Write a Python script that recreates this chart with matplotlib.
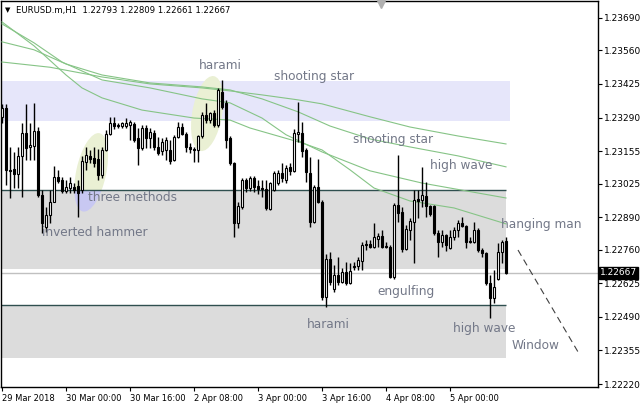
import matplotlib
matplotlib.use('Agg')
import matplotlib.pyplot as plt
from matplotlib.patches import Ellipse, Rectangle
from matplotlib.transforms import ScaledTranslation
import numpy as np

# EURUSD.m H1, бары с 29 Mar 2018 08:00 (индекс 0) до 5 Apr 14:00
opens = [1.23292, 1.23329, 1.23080, 1.23084, 1.23064, 1.23136, 1.23228, 1.23172, 1.23176, 1.23236,
         1.22980, 1.22851, 1.22899, 1.22951, 1.23052, 1.23040, 1.22996, 1.23008, 1.23012, 1.23016,
         1.23000, 1.23112, 1.23136, 1.23128, 1.23124, 1.23060, 1.23160, 1.23224, 1.23268, 1.23260,
         1.23256, 1.23256, 1.23260, 1.23264, 1.23208, 1.23168, 1.23248, 1.23208, 1.23228, 1.23172,
         1.23156, 1.23160, 1.23160, 1.23120, 1.23212, 1.23252, 1.23224, 1.23172, 1.23164, 1.23160,
         1.23216, 1.23300, 1.23280, 1.23308, 1.23260, 1.23393, 1.23349, 1.23208, 1.23108, 1.22867,
         1.22931, 1.23040, 1.23008, 1.23048, 1.23016, 1.23008, 1.23004, 1.22923, 1.23000, 1.23028,
         1.23068, 1.23040, 1.23092, 1.23076, 1.23224, 1.23228, 1.23160, 1.23068, 1.22871, 1.23012,
         1.22951, 1.22570, 1.22723, 1.22602, 1.22659, 1.22630, 1.22671, 1.22626, 1.22695, 1.22695,
         1.22715, 1.22783, 1.22783, 1.22771, 1.22803, 1.22815, 1.22775, 1.22771, 1.22650, 1.22939,
         1.22911, 1.22763, 1.22839, 1.22871, 1.22963, 1.22959, 1.22975, 1.22935, 1.22935, 1.22827,
         1.22791, 1.22819, 1.22767, 1.22811, 1.22839, 1.22867, 1.22855, 1.22795, 1.22791, 1.22839,
         1.22759, 1.22747, 1.22626, 1.22566, 1.22642, 1.22751, 1.22793]
highs = [1.23345, 1.23345, 1.23172, 1.23152, 1.23172, 1.23268, 1.23345, 1.23268, 1.23349, 1.23252,
         1.23000, 1.22931, 1.23000, 1.23096, 1.23080, 1.23052, 1.23040, 1.23052, 1.23028, 1.23040,
         1.23136, 1.23172, 1.23160, 1.23172, 1.23164, 1.23172, 1.23240, 1.23292, 1.23292, 1.23268,
         1.23272, 1.23288, 1.23280, 1.23272, 1.23248, 1.23260, 1.23260, 1.23248, 1.23240, 1.23212,
         1.23208, 1.23212, 1.23200, 1.23220, 1.23272, 1.23268, 1.23232, 1.23188, 1.23172, 1.23220,
         1.23312, 1.23349, 1.23312, 1.23320, 1.23409, 1.23441, 1.23361, 1.23216, 1.23112, 1.22951,
         1.23048, 1.23048, 1.23056, 1.23056, 1.23040, 1.23040, 1.23040, 1.23032, 1.23076, 1.23080,
         1.23108, 1.23100, 1.23108, 1.23244, 1.23353, 1.23272, 1.23168, 1.23132, 1.23020, 1.23124,
         1.22959, 1.22743, 1.22751, 1.22699, 1.22731, 1.22687, 1.22711, 1.22707, 1.22711, 1.22731,
         1.22791, 1.22799, 1.22799, 1.22867, 1.22827, 1.22839, 1.22791, 1.22779, 1.22947, 1.23140,
         1.22931, 1.22859, 1.22887, 1.23000, 1.23000, 1.23092, 1.23032, 1.22939, 1.22939, 1.22839,
         1.22839, 1.22823, 1.22839, 1.22851, 1.22879, 1.22891, 1.22859, 1.22811, 1.22871, 1.22847,
         1.22767, 1.22751, 1.22658, 1.22679, 1.22787, 1.22799, 1.22809]
lows = [1.23268, 1.23020, 1.22968, 1.23008, 1.23008, 1.22972, 1.23120, 1.23120, 1.23120, 1.22972,
        1.22827, 1.22831, 1.22867, 1.22951, 1.23028, 1.22988, 1.22988, 1.22988, 1.22988, 1.22891,
        1.22988, 1.23080, 1.23108, 1.23092, 1.23040, 1.23048, 1.23156, 1.23220, 1.23244, 1.23248,
        1.23248, 1.23248, 1.23200, 1.23192, 1.23100, 1.23160, 1.23168, 1.23168, 1.23160, 1.23140,
        1.23140, 1.23120, 1.23104, 1.23116, 1.23208, 1.23220, 1.23152, 1.23148, 1.23112, 1.23112,
        1.23208, 1.23268, 1.23268, 1.23252, 1.23252, 1.23325, 1.23168, 1.23100, 1.22811, 1.22847,
        1.22923, 1.22992, 1.22996, 1.22992, 1.22984, 1.22972, 1.22919, 1.22919, 1.22996, 1.23020,
        1.23032, 1.23028, 1.23060, 1.23072, 1.23192, 1.23132, 1.23032, 1.22851, 1.22867, 1.22947,
        1.22558, 1.22530, 1.22618, 1.22590, 1.22618, 1.22626, 1.22618, 1.22622, 1.22679, 1.22679,
        1.22679, 1.22759, 1.22767, 1.22767, 1.22771, 1.22767, 1.22767, 1.22646, 1.22642, 1.22871,
        1.22751, 1.22759, 1.22799, 1.22707, 1.22887, 1.22931, 1.22891, 1.22895, 1.22819, 1.22731,
        1.22771, 1.22755, 1.22763, 1.22799, 1.22811, 1.22851, 1.22767, 1.22787, 1.22787, 1.22751,
        1.22731, 1.22618, 1.22486, 1.22546, 1.22638, 1.22707, 1.22661]
closes = [1.23329, 1.23080, 1.23076, 1.23064, 1.23136, 1.23228, 1.23168, 1.23180, 1.23236, 1.22980,
          1.22867, 1.22899, 1.22951, 1.23052, 1.23036, 1.22996, 1.23012, 1.23028, 1.23000, 1.22988,
          1.23116, 1.23140, 1.23124, 1.23108, 1.23060, 1.23160, 1.23224, 1.23268, 1.23256, 1.23256,
          1.23268, 1.23268, 1.23272, 1.23200, 1.23168, 1.23248, 1.23208, 1.23232, 1.23172, 1.23148,
          1.23192, 1.23200, 1.23116, 1.23212, 1.23252, 1.23224, 1.23172, 1.23164, 1.23160, 1.23216,
          1.23300, 1.23280, 1.23308, 1.23260, 1.23401, 1.23333, 1.23200, 1.23108, 1.22867, 1.22935,
          1.23040, 1.23008, 1.23048, 1.23012, 1.23004, 1.23004, 1.22927, 1.23028, 1.23068, 1.23068,
          1.23048, 1.23088, 1.23076, 1.23228, 1.23232, 1.23156, 1.23072, 1.22871, 1.23012, 1.22951,
          1.22570, 1.22723, 1.22630, 1.22659, 1.22630, 1.22671, 1.22626, 1.22675, 1.22691, 1.22719,
          1.22779, 1.22779, 1.22771, 1.22811, 1.22815, 1.22771, 1.22771, 1.22650, 1.22939, 1.22907,
          1.22763, 1.22843, 1.22875, 1.22959, 1.22955, 1.22979, 1.22935, 1.22903, 1.22827, 1.22791,
          1.22819, 1.22779, 1.22811, 1.22839, 1.22867, 1.22855, 1.22791, 1.22791, 1.22839, 1.22759,
          1.22747, 1.22626, 1.22566, 1.22610, 1.22751, 1.22791, 1.22667]

# скользящие средние (бар, цена)
ma_fast_x = [0, 8, 16, 20, 25, 35, 48, 57, 62, 75, 80, 87, 93, 102, 113, 126]
ma_fast_y = [1.23674, 1.23578, 1.23461, 1.23409, 1.23369, 1.23320, 1.23288, 1.23280, 1.23248,
             1.23188, 1.23160, 1.23080, 1.23007, 1.22955, 1.22927, 1.22863]
ma_mid1_x = [0, 8, 15, 25, 37, 50, 57, 65, 71, 80, 92, 105, 126]
ma_mid1_y = [1.23666, 1.23590, 1.23513, 1.23441, 1.23409, 1.23365, 1.23349, 1.23288, 1.23221,
             1.23152, 1.23076, 1.23027, 1.22967]
ma_mid2_x = [0, 8, 16, 25, 37, 50, 57, 65, 74, 82, 92, 102, 114, 126]
ma_mid2_y = [1.23594, 1.23562, 1.23505, 1.23461, 1.23429, 1.23413, 1.23401, 1.23365, 1.23313,
             1.23256, 1.23204, 1.23172, 1.23136, 1.23092]
ma_slow_x = [0, 12, 25, 37, 50, 57, 65, 74, 80, 92, 102, 114, 126]
ma_slow_y = [1.23513, 1.23492, 1.23453, 1.23425, 1.23409, 1.23397, 1.23381, 1.23361, 1.23345,
             1.23293, 1.23252, 1.23216, 1.23184]

# зоны
blue_zone = (1.23277, 1.23437)
grey_zone1 = (1.22680, 1.23000)
grey_zone2 = (1.22325, 1.22537)
last_price = 1.22667

# подписи паттернов (бар, цена)
pattern_names = ['harami', 'shooting star', 'shooting star', 'high wave', 'three methods',
                 'inverted hammer', 'hanging man', 'engulfing', 'harami', 'high wave', 'Window']
pattern_x = [49.3, 68, 87.8, 107, 21.5, 10, 124.8, 93.8, 76.3, 112.8, 127.3]
pattern_y = [1.23497, 1.23453, 1.23200, 1.23096, 1.22967, 1.22827, 1.22859, 1.22590, 1.22457,
             1.22441, 1.22373]

x_ticks = [0, 16, 32, 48, 64, 80, 96, 112]
x_labels = ['29 Mar 2018', '30 Mar 00:00', '30 Mar 16:00', '2 Apr 08:00', '3 Apr 00:00',
            '3 Apr 16:00', '4 Apr 08:00', '5 Apr 00:00']
y_ticks = [1.23690, 1.23560, 1.23425, 1.23290, 1.23155, 1.23025, 1.22890, 1.22760, 1.22625,
           1.22490, 1.22355, 1.22220]

W, H = 644, 407
fig = plt.figure(figsize=(W / 100, H / 100), dpi=100)
ax = fig.add_axes([1 / W, 20 / H, 597 / W, 386 / H])
ax.set_xlim(-0.25, 149)
ax.set_ylim(1.22208, 1.23758)

n = len(opens)
idx = np.arange(n)
o = np.array(opens); c = np.array(closes); hi = np.array(highs); lo = np.array(lows)

# прямоугольники
ax.add_patch(Rectangle((-1, blue_zone[0]), 128.1, blue_zone[1] - blue_zone[0],
                       facecolor='#e6e6fa', edgecolor='none', zorder=1))
g1 = Rectangle((-1, grey_zone1[0]), 127.1, grey_zone1[1] - grey_zone1[0],
               facecolor='#dcdcdc', edgecolor='none', zorder=1.5)
ax.add_patch(g1)
ax.add_patch(Rectangle((-1, grey_zone2[0]), 127.1, grey_zone2[1] - grey_zone2[0],
                       facecolor='#dcdcdc', edgecolor='none', zorder=1.5))
ax.hlines([grey_zone1[1], grey_zone2[1]], -1, 126.1, color='#2f4f4f', lw=1, zorder=2)
ax.axhline(last_price, color='#c0c0c0', lw=1, zorder=1.6)


def ellipse(xd, yd, w, h, ang, color, z):
    tr = fig.dpi_scale_trans + ScaledTranslation(xd, yd, ax.transData)
    e = Ellipse((0, 0), w / 100, h / 100, angle=ang, facecolor=color, edgecolor='none',
                transform=tr, zorder=z)
    ax.add_patch(e)
    return e


ellipse(51.3, 1.23306, 76, 30, 80, '#eaf0d4', 1.2)
ellipse(22.3, 1.23070, 80, 30, 78, '#eaf0d4', 1.2)
eb = ellipse(22.3, 1.23070, 80, 30, 78, '#c8c8f2', 1.7)
eb.set_clip_path(g1)

# MA
for mx, my in [(ma_fast_x, ma_fast_y), (ma_mid1_x, ma_mid1_y),
               (ma_mid2_x, ma_mid2_y), (ma_slow_x, ma_slow_y)]:
    ax.plot(mx, my, color='#86c486', lw=0.8, zorder=3)

# свечи
ax.vlines(idx, lo, hi, color='black', lw=1, zorder=4)
up = c >= o
body_lo = np.minimum(o, c)
body_h = np.maximum(np.abs(c - o), 0.00003)
ax.bar(idx, body_h, bottom=body_lo, width=0.62, color=np.where(up, 'white', 'black'),
       edgecolor='black', linewidth=0.8, zorder=5)

# Window
ax.plot([129, 144], [1.22758, 1.22349], color='#404040', lw=0.8, ls=(0, (6, 4)), zorder=3)

for name, px, py in zip(pattern_names, pattern_x, pattern_y):
    ax.text(px, py, name, color='#737888', fontsize=8.7, family='DejaVu Sans',
            ha='left', va='center', zorder=6)

# оси
for s in ax.spines.values():
    s.set_linewidth(1)
    s.set_color('black')
ax.yaxis.tick_right()
ax.set_yticks(y_ticks)
ax.set_yticklabels(['%.5f' % v for v in y_ticks])
ax.set_xticks(x_ticks)
ax.set_xticklabels(x_labels, ha='left')
ax.tick_params(axis='both', direction='out', length=3, width=0.8, labelsize=6.5, pad=1.5)
ax.tick_params(axis='x', labelsize=6, pad=2)

ax.text(1.0 + 2 / 597, last_price, '%.5f' % last_price, transform=ax.get_yaxis_transform(),
        color='white', fontsize=6.5, va='center', ha='left', zorder=10,
        bbox=dict(boxstyle='square,pad=0.15', facecolor='black', edgecolor='black'))

fig.text(5 / W, 1 - 10 / H, '\u25bc', fontsize=5, va='center', ha='left')
fig.text(16 / W, 1 - 10 / H, 'EURUSD.m,H1  1.22793 1.22809 1.22661 1.22667',
         fontsize=6.1, va='center', ha='left')
ax.plot([0.637], [0.993], marker='v', color='#b0b0b0', ms=6, transform=ax.transAxes,
        clip_on=False, zorder=10)

fig.savefig('out.png', dpi=100)
